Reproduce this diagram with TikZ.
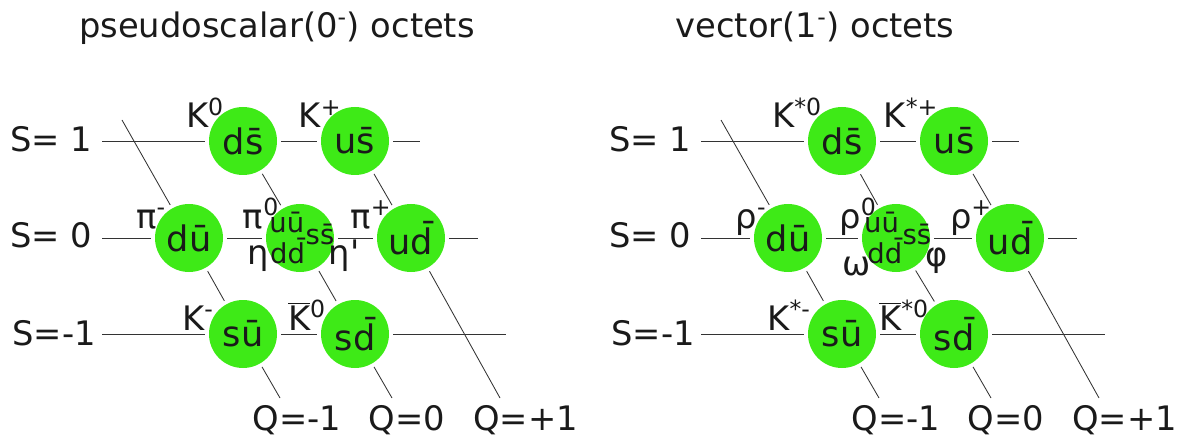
\documentclass[tikz,border=0pt]{standalone}
\usepackage{fontspec}
\setmainfont{DejaVu Sans}
\usetikzlibrary{positioning}
\definecolor{quarkgreen}{HTML}{3EEA17}
\definecolor{inkgray}{HTML}{1A1A1A}
\definecolor{linegray}{HTML}{333333}
\newcommand{\barK}{$\overline{\mbox{K}}$}

\begin{document}
\begin{tikzpicture}[
  meson/.style={circle, fill=quarkgreen, minimum size=1.7cm, inner sep=0pt,
                outer sep=0.1cm, font=\fontsize{25}{28}\selectfont, text=inkgray},
  mix/.style={font=\fontsize{19.5}{22}\selectfont, text=inkgray, inner sep=0pt},
  tag/.style={font=\fontsize{24}{28}\selectfont, text=inkgray, anchor=base, inner sep=0pt},
  grid/.style={linegray, line width=0.6pt}
]
\useasboundingbox (0,0) rectangle (29.7,-10.975);

% Titles
\node[tag] (ptitle) at (6.925,-0.95) {pseudoscalar(0\textsuperscript{-}) octets};
\node[tag] (vtitle) at (20.375,-0.95) {vector(1\textsuperscript{-}) octets};

% Pseudoscalar octet
\node[tag] (ps1) at (1.275,-3.8) {S= 1};
\node[tag] (ps0) at (1.275,-6.2) {S= 0};
\node[tag] (psm1) at (1.35,-8.625) {S=-1};

\node[meson] (pds) at (6.075,-3.525) {d\=s};
\node[meson] (pus) at (8.875,-3.525) {u\=s};
\node[meson] (pdu) at (4.725,-5.95) {d\=u};
\node[meson] (pmid) at (7.5,-5.95) {};
\node[meson] (pud) at (10.275,-5.95) {u\=d};
\node[meson] (psu) at (6.075,-8.35) {s\=u};
\node[meson] (psd) at (8.875,-8.35) {s\=d};

\node[mix, xshift=-0.33cm, yshift=0.38cm] (puu) at (pmid) {u\=u};
\node[mix, xshift=-0.31cm, yshift=-0.32cm] (pdd) at (pmid) {d\=d};
\node[mix, xshift=0.5cm, yshift=0.1cm] (pss) at (pmid) {s\=s};

\coordinate (ps1a) at (2.55,-3.525);
\coordinate (ps1b) at (10.5,-3.525);
\coordinate (ps0a) at (2.55,-5.95);
\coordinate (ps0b) at (11.95,-5.95);
\coordinate (psm1a) at (2.55,-8.35);
\coordinate (psm1b) at (12.65,-8.35);
\coordinate (pqm1a) at (3.05,-3.0);
\coordinate (pqm1b) at (7.0,-9.95);
\coordinate (pq0b) at (9.8,-9.95);
\coordinate (pqp1b) at (12.5,-9.95);

\draw[grid] (ps1a) -- (pds) -- (pus) -- (ps1b);
\draw[grid] (ps0a) -- (pdu) -- (pmid) -- (pud) -- (ps0b);
\draw[grid] (psm1a) -- (psu) -- (psd) -- (psm1b);
\draw[grid] (pqm1a) -- (pdu) -- (psu) -- (pqm1b);
\draw[grid] (pds) -- (pmid) -- (psd) -- (pq0b);
\draw[grid] (pus) -- (pud) -- (pqp1b);

\node[tag] (pk0) at (5.125,-3.2) {K\textsuperscript{0}};
\node[tag] (pkp) at (8.0,-3.2) {K\textsuperscript{+}};
\node[tag] (ppim) at (3.775,-5.7) {π\textsuperscript{-}};
\node[tag] (ppi0) at (6.525,-5.7) {π\textsuperscript{0}};
\node[tag] (peta) at (6.45,-6.6) {η};
\node[tag] (ppip) at (9.275,-5.7) {π\textsuperscript{+}};
\node[tag] (petap) at (8.6,-6.6) {η\textquotesingle};
\node[tag] (pkm) at (4.95,-8.25) {K\textsuperscript{-}};
\node[tag] (pk0bar) at (7.675,-8.25) {\barK\textsuperscript{0}};

\node[tag] (pqm1) at (7.425,-10.75) {Q=-1};
\node[tag] (pq0) at (10.175,-10.75) {Q=0};
\node[tag] (pqp1) at (13.14,-10.75) {Q=+1};

% Vector octet
\begin{scope}[xshift=14.975cm]
\node[tag] (vs1) at (1.275,-3.8) {S= 1};
\node[tag] (vs0) at (1.275,-6.2) {S= 0};
\node[tag] (vsm1) at (1.35,-8.625) {S=-1};

\node[meson] (vds) at (6.075,-3.525) {d\=s};
\node[meson] (vus) at (8.875,-3.525) {u\=s};
\node[meson] (vdu) at (4.725,-5.95) {d\=u};
\node[meson] (vmid) at (7.425,-5.95) {};
\node[meson] (vud) at (10.275,-5.95) {u\=d};
\node[meson] (vsu) at (6.075,-8.35) {s\=u};
\node[meson] (vsd) at (8.875,-8.35) {s\=d};

\node[mix, xshift=-0.36cm, yshift=0.38cm] (vuu) at (vmid) {u\=u};
\node[mix, xshift=-0.28cm, yshift=-0.32cm] (vdd) at (vmid) {d\=d};
\node[mix, xshift=0.52cm, yshift=0.1cm] (vss) at (vmid) {s\=s};

\coordinate (vs1a) at (2.55,-3.525);
\coordinate (vs1b) at (10.5,-3.525);
\coordinate (vs0a) at (2.55,-5.95);
\coordinate (vs0b) at (11.95,-5.95);
\coordinate (vsm1a) at (2.55,-8.35);
\coordinate (vsm1b) at (12.65,-8.35);
\coordinate (vqm1a) at (3.05,-3.0);
\coordinate (vqm1b) at (7.0,-9.95);
\coordinate (vq0b) at (9.8,-9.95);
\coordinate (vqp1b) at (12.5,-9.95);

\draw[grid] (vs1a) -- (vds) -- (vus) -- (vs1b);
\draw[grid] (vs0a) -- (vdu) -- (vmid) -- (vud) -- (vs0b);
\draw[grid] (vsm1a) -- (vsu) -- (vsd) -- (vsm1b);
\draw[grid] (vqm1a) -- (vdu) -- (vsu) -- (vqm1b);
\draw[grid] (vds) -- (vmid) -- (vsd) -- (vq0b);
\draw[grid] (vus) -- (vud) -- (vqp1b);

\node[tag] (vk0) at (4.95,-3.2) {K\textsuperscript{*0}};
\node[tag] (vkp) at (7.8,-3.2) {K\textsuperscript{*+}};
\node[tag] (vrhom) at (3.8,-5.7) {ρ\textsuperscript{-}};
\node[tag] (vrho0) at (6.475,-5.7) {ρ\textsuperscript{0}};
\node[tag] (vomega) at (6.45,-6.875) {ω};
\node[tag] (vphi) at (8.45,-6.65) {φ};
\node[tag] (vrhop) at (9.3,-5.7) {ρ\textsuperscript{+}};
\node[tag] (vkm) at (4.75,-8.25) {K\textsuperscript{*-}};
\node[tag] (vk0bar) at (7.625,-8.25) {\barK\textsuperscript{*0}};

\node[tag] (vqm1) at (7.425,-10.75) {Q=-1};
\node[tag] (vq0) at (10.175,-10.75) {Q=0};
\node[tag] (vqp1) at (13.14,-10.75) {Q=+1};
\end{scope}

\end{tikzpicture}
\end{document}
